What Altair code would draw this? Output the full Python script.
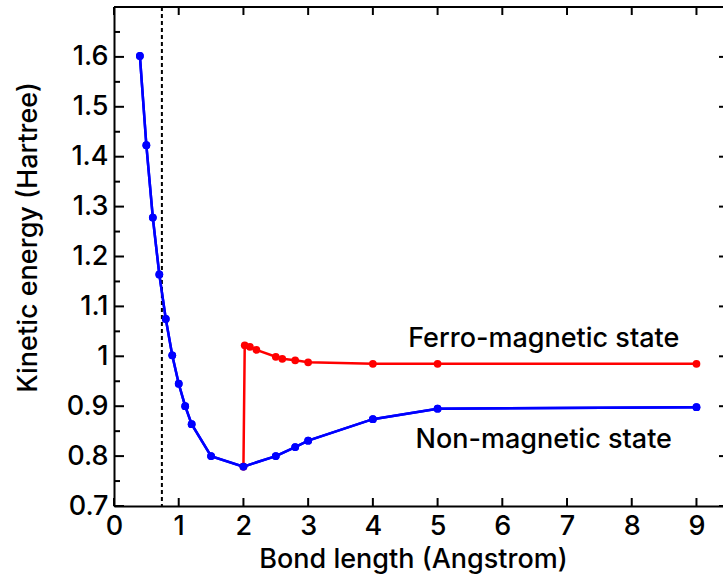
import altair as alt
import pandas as pd

# Non-magnetic state (blue)
nm_x = [0.4, 0.5, 0.6, 0.7, 0.8, 0.9, 1.0, 1.1, 1.2, 1.5, 2.0, 2.5, 2.8, 3.0, 4.0, 5.0, 9.0]
nm_y = [1.602, 1.423, 1.278, 1.164, 1.075, 1.002, 0.945, 0.900, 0.864, 0.800, 0.779,
        0.800, 0.818, 0.831, 0.874, 0.895, 0.898]
# Ferro-magnetic state (red)
fm_x = [2.0, 2.02, 2.1, 2.2, 2.5, 2.6, 2.8, 3.0, 4.0, 5.0, 9.0]
fm_y = [0.779, 1.022, 1.019, 1.013, 0.999, 0.995, 0.992, 0.988, 0.985, 0.985, 0.985]

# reference line (equilibrium bond length)
dash_x = [0.74]

# axis ticks
x_ticks = [0, 1, 2, 3, 4, 5, 6, 7, 8, 9]
y_major = [0.7, 0.8, 0.9, 1.0, 1.1, 1.2, 1.3, 1.4, 1.5, 1.6, 1.7]
y_minor = [0.75, 0.85, 0.95, 1.05, 1.15, 1.25, 1.35, 1.45, 1.55, 1.65]
y_labels = [0.7, 0.8, 0.9, 1.0, 1.1, 1.2, 1.3, 1.4, 1.5, 1.6]

# annotations
ann_text = ["Ferro-magnetic state", "Non-magnetic state"]
ann_x = [6.64, 6.64]
ann_y = [1.019, 0.816]

FONT = "Inter"
FS = 27
W, H = 609, 499

nm = pd.DataFrame({"x": nm_x, "y": nm_y})
fm = pd.DataFrame({"x": fm_x, "y": fm_y})
dash = pd.DataFrame({"x": dash_x})
xt = pd.DataFrame({"x": x_ticks})
ymaj = pd.DataFrame({"y": y_major})
ymin = pd.DataFrame({"y": y_minor})
ann = pd.DataFrame({"t": ann_text, "x": ann_x, "y": ann_y})

xs = alt.Scale(domain=[0, 9.41], nice=False, zero=False)
ys = alt.Scale(domain=[0.7, 1.7], nice=False, zero=False)

x_axis = alt.Axis(
    values=x_ticks, format="d", ticks=False, grid=False,
    domainColor="black", domainWidth=2,
    labelFont=FONT, labelFontSize=FS, labelColor="black", labelPadding=7,
    labelFlush=False, labelOverlap=False, labelFontWeight=500,
    title="Bond length (Angstrom)", titleFont=FONT, titleFontSize=FS,
    titleFontWeight=500, titleColor="black", titlePadding=7, titleX=299,
)
y_axis = alt.Axis(
    values=y_labels, format=".1~f", ticks=False, grid=False,
    domainColor="black", domainWidth=2,
    labelFont=FONT, labelFontSize=FS, labelColor="black", labelPadding=6,
    labelFlush=False, labelOverlap=False, labelFontWeight=500,
    title="Kinetic energy (Hartree)", titleFont=FONT, titleFontSize=FS,
    titleFontWeight=500, titleColor="black", titlePadding=24, titleY=230,
)

X = alt.X("x:Q", scale=xs, axis=x_axis)
Y = alt.Y("y:Q", scale=ys, axis=y_axis)

red = alt.Chart(fm).mark_line(
    color="#ff0000", strokeWidth=2.5,
    point=alt.OverlayMarkDef(filled=True, size=60, color="#ff0000", opacity=1),
).encode(x=X, y=Y)

blue = alt.Chart(nm).mark_line(
    color="#0000ff", strokeWidth=2.5,
    point=alt.OverlayMarkDef(filled=True, size=60, color="#0000ff", opacity=1),
).encode(x=X, y=Y)

dashed = alt.Chart(dash).mark_rule(
    color="black", strokeWidth=2, strokeDash=[4, 3]
).encode(x=X)

bottom_ticks = alt.Chart(xt).mark_rule(color="black", strokeWidth=2).encode(
    x=X, y=alt.value(H), y2=alt.value(H - 8)
)
top_ticks = alt.Chart(xt).mark_rule(color="black", strokeWidth=2).encode(
    x=X, y=alt.value(0), y2=alt.value(8)
)
left_major = alt.Chart(ymaj).mark_rule(color="black", strokeWidth=2).encode(
    y=Y, x=alt.value(0), x2=alt.value(10)
)
left_minor = alt.Chart(ymin).mark_rule(color="black", strokeWidth=2).encode(
    y=Y, x=alt.value(0), x2=alt.value(6)
)
right_major = alt.Chart(ymaj).mark_rule(color="black", strokeWidth=2).encode(
    y=Y, x=alt.value(W - 4), x2=alt.value(W)
)
top_line = alt.Chart(xt).mark_rule(color="black", strokeWidth=2).encode(
    x=alt.value(0), x2=alt.value(W), y=alt.value(0)
)

labels = alt.Chart(ann).mark_text(
    font=FONT, fontSize=FS, fontWeight=500, color="black", align="center",
    baseline="alphabetic"
).encode(x=X, y=Y, text="t:N")

chart = alt.layer(
    blue, dashed, red, blue, bottom_ticks, top_ticks, left_major, left_minor,
    right_major, top_line, labels,
).properties(
    width=W, height=H,
    autosize=alt.AutoSizeParams(type="none"),
    padding={"left": 114, "top": 7, "right": 0, "bottom": 72},
    background="white",
).configure_view(stroke=None)

chart.save("out.html", embed_options={"renderer": "svg", "actions": False})
